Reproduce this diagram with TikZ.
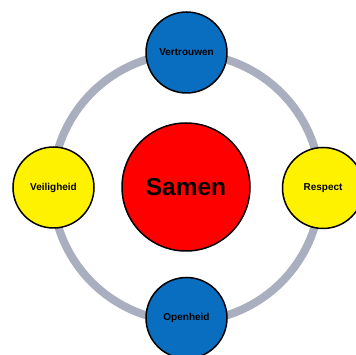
\documentclass[tikz,border=0pt]{standalone}
\usepackage{fontspec}
\setmainfont{Liberation Sans}
\definecolor{ringgray}{HTML}{A9AFBE}
\definecolor{bblue}{HTML}{0A6EC0}
\begin{document}
\begin{tikzpicture}[x=1pt,y=-1pt,
  bubble/.style={circle,draw=black,line width=1.5pt,minimum size=81pt,inner sep=0pt,font=\bfseries\fontsize{10}{12}\selectfont},
  core/.style={circle,draw=black,line width=1.5pt,fill=red,minimum size=128pt,inner sep=0pt,font=\bfseries\fontsize{24.5}{28}\selectfont}]
\useasboundingbox (0,0) rectangle (356,355);
\fill[white] (0,0) rectangle (356,355);
\coordinate (c) at (186.5,187.5);
\draw[ringgray,line width=8pt] (c) circle[radius=134];
\node[core] (samen) at (186,187) {Samen};
\node[bubble,fill=bblue] (vertrouwen) at (186.5,52.5) {Vertrouwen};
\node[bubble,fill=yellow] (veiligheid) at (53.5,187.5) {Veiligheid};
\node[bubble,fill=yellow] (respect) at (323,188) {Respect};
\node[bubble,fill=bblue] (openheid) at (186.5,318) {Openheid};
\end{tikzpicture}
\end{document}
